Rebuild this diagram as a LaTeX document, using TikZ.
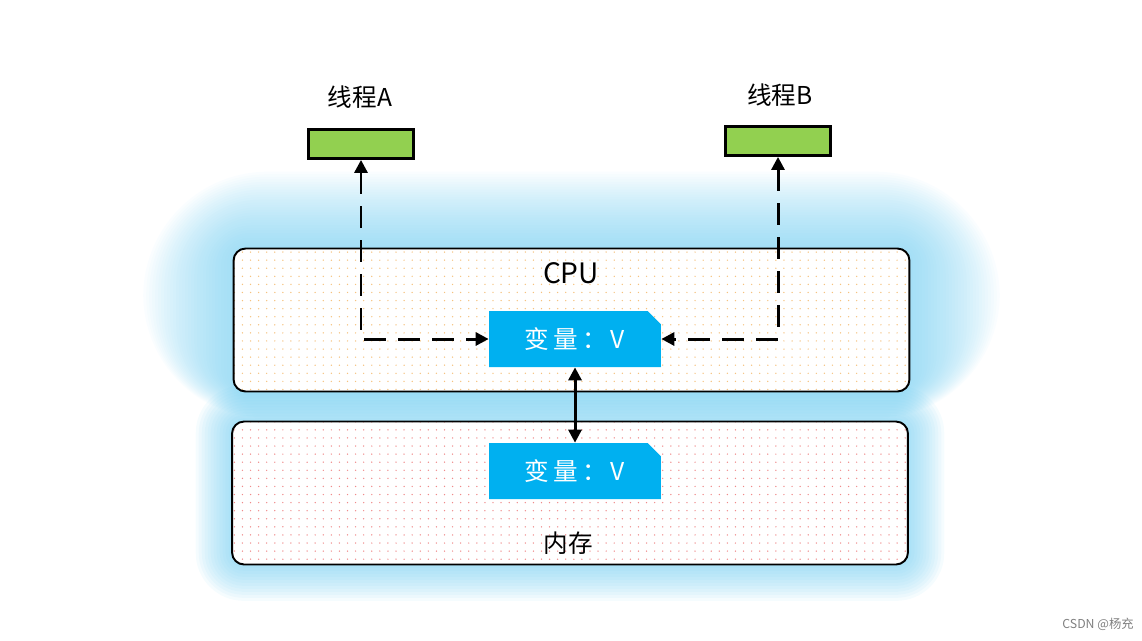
\documentclass[tikz,border=0pt]{standalone}
\usepackage{fontspec}
\setmainfont{Noto Sans CJK SC}
\usetikzlibrary{arrows.meta,positioning,calc,shapes.misc,patterns.meta}
\definecolor{thread}{HTML}{92D050}
\definecolor{var}{HTML}{00B0F0}
\definecolor{glow}{HTML}{6CCBF0}
\definecolor{cpudot}{HTML}{F6C27E}
\definecolor{memdot}{HTML}{F08A8A}
\tikzdeclarepattern{
  name=dotgrid, type=uncolored,
  bounding box={(-2.3pt,-2.3pt) and (2.3pt,2.3pt)},
  tile size={(4.6pt,4.6pt)},
  code={\fill (0,0) circle (0.42pt);}
}

\begin{document}
\begin{tikzpicture}[x=0.02cm, y=-0.02cm,
  unit/.style={draw, line width=1.1pt, rounded corners=2.4mm, minimum width=135.2mm, minimum height=28.6mm, preaction={fill=white}, pattern={dotgrid}},
  area/.style={minimum width=135.2mm, minimum height=28.6mm},
  threadbox/.style={draw, line width=1.6pt, fill=thread, minimum width=21mm, minimum height=5.8mm},
  varbox/.style={chamfered rectangle, chamfered rectangle corners=north east, chamfered rectangle xsep=1.4mm, fill=var, text=white, minimum width=34.4mm, minimum height=11.2mm, inner sep=0pt, font=\fontsize{14}{16}\selectfont},
  dashline/.style={line width=1.7pt, dash pattern=on 4.4mm off 2.4mm, {Triangle[length=2.6mm,width=2.6mm]}-{Triangle[length=2.6mm,width=2.6mm]}},
  label/.style={font=\fontsize{14}{16}\selectfont},
]
  \useasboundingbox (0,0) rectangle (1142,640);

  \node[area] (cpuglow) at (571.5,320) {};
  \node[area] (memglow) at (570,493) {};
  % blue halo
  \foreach \d in {3,6,...,90}
    \fill[glow, opacity=0.03, rounded corners=2.4mm+\d*0.25mm] ($(cpuglow.south west)+(-\d,\d*0.3)$) rectangle ($(cpuglow.north east)+(\d,-\d*0.85)$);
  \foreach \d in {3,6,...,36}
    \fill[glow, opacity=0.065, rounded corners=2.4mm+\d*0.2mm] ($(memglow.south west)+(-\d,\d)$) rectangle ($(memglow.north east)+(\d,-\d)$);

  \node[unit, pattern color=cpudot] (cpu) at (571.5,320) {};
  \node[unit, pattern color=memdot] (mem) at (570,493) {};
  \node[label, font=\fontsize{16}{18}\selectfont] (cpulabel) at (571,273) {CPU};
  \node[label] (memlabel) at (568,543) {内存};

  \node[varbox] (cpuv) at (575,339) {变\,量\,：\,V};
  \node[varbox] (memv) at (575,471) {变\,量\,：\,V};

  \node[threadbox] (ta) at (361,144) {};
  \node[threadbox] (tb) at (778,141) {};
  \node[label] (talabel) at (360,97) {线程A};
  \node[label] (tblabel) at (780,95) {线程B};

  \draw[dashline] (ta.south) |- (cpuv.west);
  \draw[dashline] (tb.south) |- (cpuv.east);
  \draw[line width=1.7pt, {Triangle[length=2.6mm,width=2.6mm]}-{Triangle[length=2.6mm,width=2.6mm]}] (cpuv.south) -- (memv.north);

  \node[font=\fontsize{7}{8}\selectfont, text=gray] (mark) at (1098,624) {CSDN @杨充};
\end{tikzpicture}
\end{document}
